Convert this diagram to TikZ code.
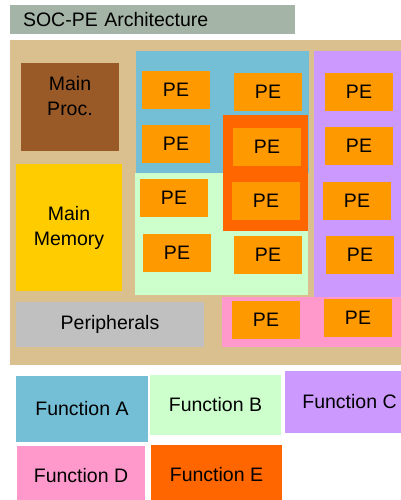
\documentclass[tikz,border=0pt]{standalone}
\usepackage{fontspec}
\setmainfont{Liberation Sans}
\definecolor{titlegray}{HTML}{A4B4A6}
\definecolor{chiptan}{HTML}{DAC08F}
\definecolor{procbrown}{HTML}{9A5A28}
\definecolor{memyellow}{HTML}{FFCC00}
\definecolor{perigray}{HTML}{C0C0C0}
\definecolor{peorange}{HTML}{FF9900}
\definecolor{funcA}{HTML}{74BED6}
\definecolor{funcB}{HTML}{CCFFCC}
\definecolor{funcC}{HTML}{CC99FF}
\definecolor{funcD}{HTML}{FF99CC}
\definecolor{funcE}{HTML}{FF6600}
\begin{document}
\begin{tikzpicture}
    [x=1pt,y=-1pt,
     box/.style={rectangle,inner sep=0pt,outer sep=0pt,align=center,font=\fontsize{19.5}{25}\selectfont},
     pe/.style={box,fill=peorange,minimum width=68pt,minimum height=38pt},
     func/.style={box,minimum width=#1}]
    \useasboundingbox (0,0) rectangle (401,500);
    \clip (0,0) rectangle (401,500);
    % title bar
    \node[box,fill=titlegray,align=left,anchor=west,text width=259pt,inner xsep=13pt,minimum height=29pt] (title) at (10,19.5) {SOC-PE Architecture};
    % chip and function regions
    \fill[chiptan] (10,40) rectangle (410,365);
    \fill[funcA] (136,51) rectangle (309,173);
    \fill[funcB] (135,173) rectangle (308,295);
    \fill[funcC] (314,51) rectangle (410,297);
    \fill[funcE] (223,115) rectangle (308,231);
    \fill[funcD] (222,297) rectangle (410,347);
    % main blocks
    \node[box,fill=procbrown,minimum width=98pt,minimum height=88pt] (proc) at (70,107) {};
    \node[box] (proctext) at (70,96) {Main\\Proc.};
    \node[box,fill=memyellow,minimum width=106pt,minimum height=127pt] (mem) at (69,227.5) {Main\\Memory};
    \node[box,fill=perigray,minimum width=188pt,minimum height=45pt] (peri) at (110,324.5) {Peripherals};
    % processing elements
    \node[pe] (pe11) at (176,90) {PE};
    \node[pe] (pe12) at (268,92) {PE};
    \node[pe] (pe13) at (359,92) {PE};
    \node[pe] (pe21) at (176,144) {PE};
    \node[pe] (pe22) at (267,147) {PE};
    \node[pe] (pe23) at (359,146) {PE};
    \node[pe] (pe31) at (174,198) {PE};
    \node[pe] (pe32) at (266,201) {PE};
    \node[pe] (pe33) at (357,201) {PE};
    \node[pe] (pe41) at (177,253) {PE};
    \node[pe] (pe42) at (268,255) {PE};
    \node[pe] (pe43) at (360,255) {PE};
    \node[pe] (pe52) at (266,320) {PE};
    \node[pe] (pe53) at (358,318) {PE};
    % legend
    \node[func=132pt,fill=funcA,minimum height=66pt] (fa) at (82,409) {Function A};
    \node[func=131pt,fill=funcB,minimum height=60pt] (fb) at (215.5,405) {Function B};
    \node[func=129pt,fill=funcC,minimum height=62pt] (fc) at (349.5,402) {Function C};
    \node[func=128pt,fill=funcD,minimum height=60pt] (fd) at (81,476) {Function D};
    \node[func=131pt,fill=funcE,minimum height=60pt] (fe) at (216.5,475) {Function E};
\end{tikzpicture}
\end{document}
